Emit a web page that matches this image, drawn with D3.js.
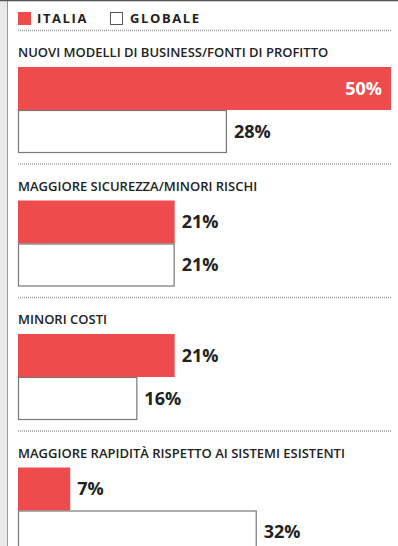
<!DOCTYPE html>
<html>
<head>
<meta charset="utf-8">
<script src="https://cdn.jsdelivr.net/npm/d3@7"></script>
<style>
  body { margin: 0; background: #fff; }
  text { font-family: "Open Sans", sans-serif; }
</style>
</head>
<body>
<div id="chart"></div>
<script>
// Data
let categories = [
    "NUOVI MODELLI DI BUSINESS/FONTI DI PROFITTO",
    "MAGGIORE SICUREZZA/MINORI RISCHI",
    "MINORI COSTI",
    "MAGGIORE RAPIDITÀ RISPETTO AI SISTEMI ESISTENTI"
];
let seriesNames = ["ITALIA", "GLOBALE"];
let italia = [50, 21, 21, 7];
let globale = [28, 21, 16, 32];

let width = 398, height = 546;
let red = "#ee4b4c";

let svg = d3.select("#chart")
    .append("svg")
    .attr("width", width)
    .attr("height", height);

// frame: grey strip on the left + top rule
svg.append("rect")
    .attr("x", 0).attr("y", 0)
    .attr("width", 7).attr("height", height)
    .attr("fill", "#e9eceb");
svg.append("line")
    .attr("x1", 7.5).attr("x2", 7.5)
    .attr("y1", 0).attr("y2", height)
    .attr("stroke", "#9a9a9a");
svg.append("line")
    .attr("x1", 0).attr("x2", width)
    .attr("y1", 0.5).attr("y2", 0.5)
    .attr("stroke", "#555")
    .attr("stroke-width", 1.5);

// Legend
let legendColors = [red, "#fff"];
let legendX = [18, 110];
let legend = svg.selectAll(".legend")
    .data(seriesNames)
    .enter().append("g")
    .attr("class", "legend")
    .attr("transform", (d, i) => `translate(${legendX[i]}, 12)`);

legend.append("rect")
    .attr("x", (d, i) => i ? 0.5 : 0)
    .attr("y", (d, i) => i ? 0.5 : 0)
    .attr("width", (d, i) => i ? 12 : 13)
    .attr("height", (d, i) => i ? 12 : 13)
    .attr("fill", (d, i) => legendColors[i])
    .attr("stroke", (d, i) => i ? "#555" : "none");

legend.append("text")
    .attr("x", (d, i) => i ? 20 : 19)
    .attr("y", 11)
    .style("font-size", "13px")
    .style("font-weight", 700)
    .style("letter-spacing", "1.6px")
    .attr("fill", "#222")
    .text(d => d);

// Scales
let x = d3.scaleLinear()
    .domain([0, 50])
    .range([18, 391]);

let yGroup = d3.scaleBand()
    .domain(categories)
    .range([30.5, 30.5 + 133.5 * categories.length]);

let ySeries = d3.scaleBand()
    .domain(seriesNames)
    .range([36.5, 36.5 + 86]);

let groups = svg.selectAll(".group")
    .data(categories)
    .enter().append("g")
    .attr("class", "group")
    .attr("transform", d => `translate(0, ${yGroup(d)})`);

// dotted separator
groups.append("line")
    .attr("x1", 18).attr("x2", 392)
    .attr("y1", 0).attr("y2", 0)
    .attr("stroke", "#a0a0a0")
    .attr("stroke-width", 1.5)
    .attr("stroke-dasharray", "1,1");

// category title
groups.append("text")
    .attr("x", 18)
    .attr("y", 26.5)
    .style("font-size", "13px")
    .style("font-weight", 600)
    .attr("fill", "#222")
    .text(d => d);

// bars
let rows = categories.map((c, i) => [
    {cat: c, series: "ITALIA", value: italia[i]},
    {cat: c, series: "GLOBALE", value: globale[i]}
]);

let bars = groups.selectAll(".bar")
    .data((d, i) => rows[i])
    .enter().append("g")
    .attr("class", "bar");

bars.append("rect")
    .attr("x", d => x(0) + (d.series === "GLOBALE" ? 0.5 : 0))
    .attr("y", d => ySeries(d.series) + (d.series === "GLOBALE" ? 0.5 : 0))
    .attr("width", d => x(d.value) - x(0) - (d.series === "GLOBALE" ? 1 : 0))
    .attr("height", d => ySeries.bandwidth() - (d.series === "GLOBALE" ? 1 : 0))
    .attr("fill", d => d.series === "ITALIA" ? red : "#fff")
    .attr("stroke", d => d.series === "ITALIA" ? "none" : "#777")
    .attr("stroke-width", 1.2);

// value labels: inside (white) when bar is full width, else outside
bars.append("text")
    .attr("x", d => d.value >= 45 ? x(d.value) - 9 : x(d.value) + 7)
    .attr("y", d => ySeries(d.series) + ySeries.bandwidth() / 2)
    .attr("dy", "0.36em")
    .style("text-anchor", d => d.value >= 45 ? "end" : "start")
    .style("font-size", "18px")
    .style("font-weight", 700)
    .attr("fill", d => d.value >= 45 ? "#fff" : "#222")
    .text(d => d.value + "%");
</script>
</body>
</html>
